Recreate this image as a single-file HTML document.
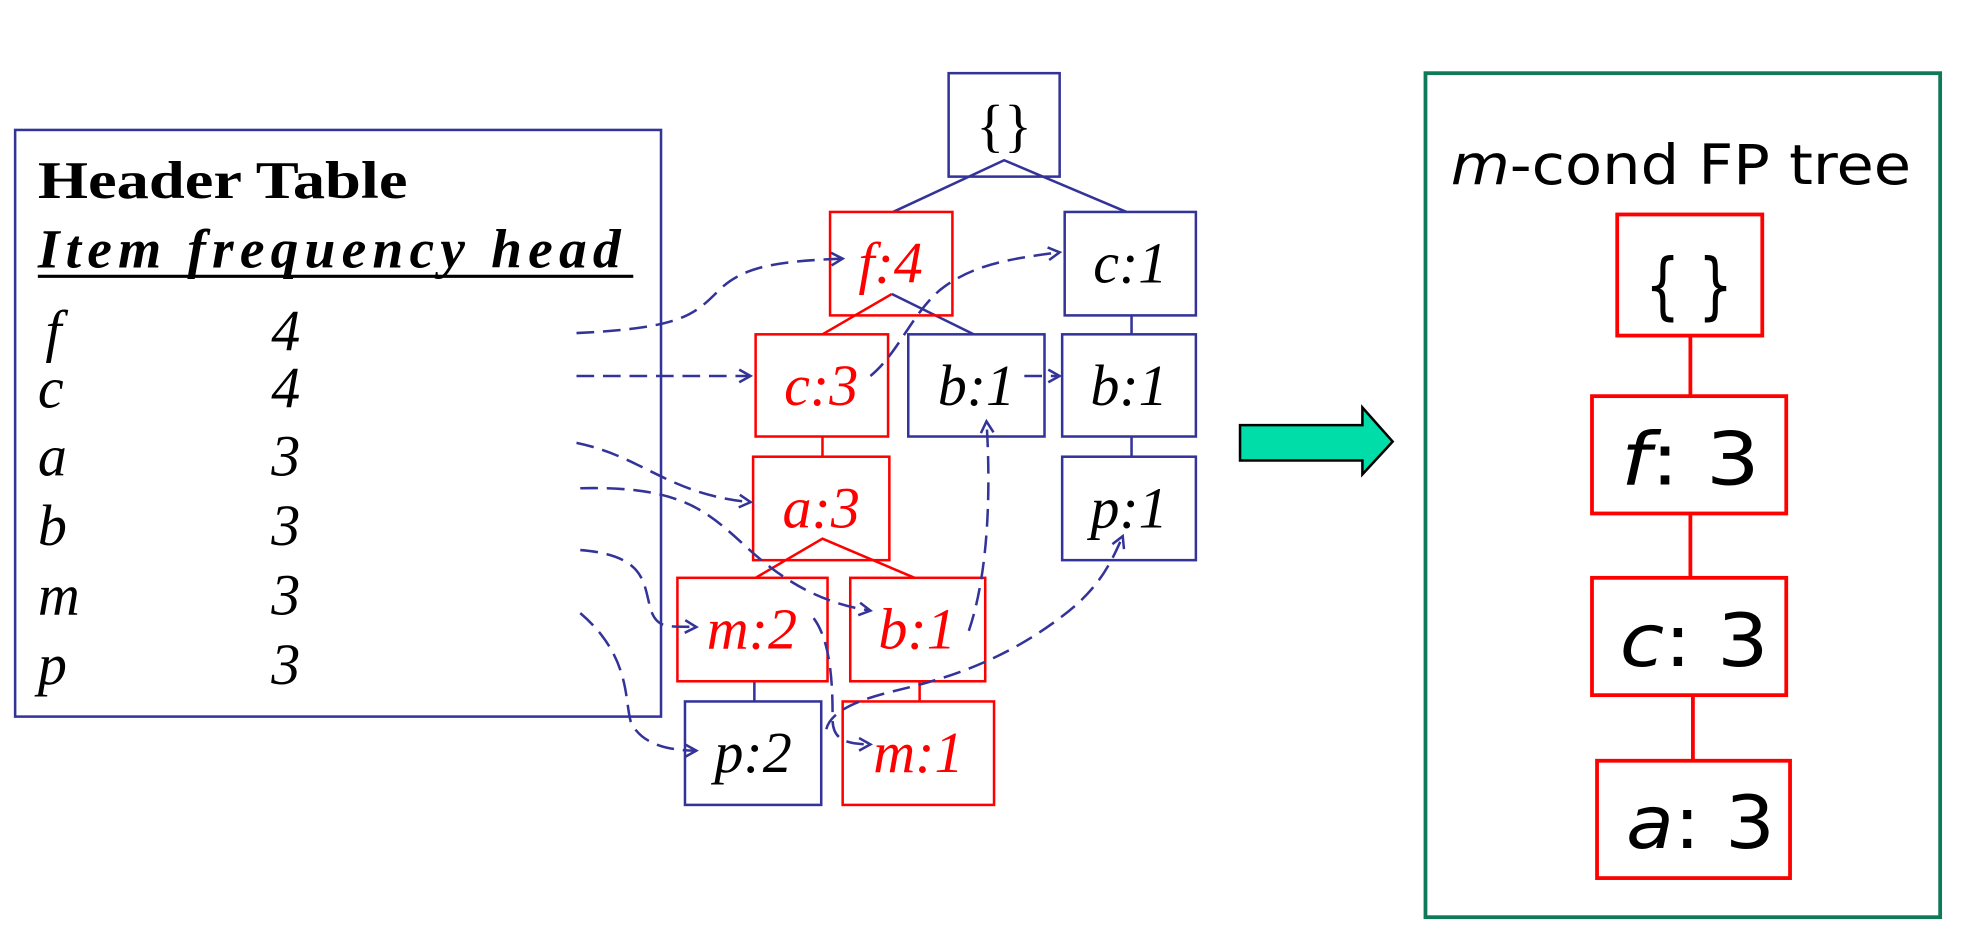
<!DOCTYPE html>
<html><head><meta charset="utf-8"><style>html,body{margin:0;padding:0;background:#fff}svg{display:block}</style></head>
<body>
<svg width="1978" height="950" viewBox="0 0 1568 753" preserveAspectRatio="none" xmlns="http://www.w3.org/2000/svg">
<defs>
<marker id="ah" markerWidth="12" markerHeight="12" refX="10" refY="6" orient="auto" markerUnits="userSpaceOnUse">
<polyline points="1,1 10,6 1,11" fill="none" stroke="#333399" stroke-width="2"/>
</marker>
</defs>
<rect width="1568" height="753" fill="#fff"/>
<!-- header table -->
<rect x="12" y="103" width="512" height="465" fill="none" stroke="#333399" stroke-width="2"/>
<g font-family="Liberation Serif, serif" fill="#000">
<text x="30" y="157" font-size="42" font-weight="bold" textLength="293" lengthAdjust="spacingAndGlyphs">Header Table</text>
<text x="30" y="212" font-size="44" font-weight="bold" font-style="italic" textLength="462" lengthAdjust="spacing">Item  frequency  head</text>
<line x1="30" y1="219" x2="502" y2="219" stroke="#000" stroke-width="2.5"/>
<g font-size="46" font-style="italic">
<text x="36" y="278">f</text><text x="215" y="278">4</text>
<text x="30" y="323">c</text><text x="215" y="323">4</text>
<text x="30" y="377">a</text><text x="215" y="377">3</text>
<text x="30" y="432">b</text><text x="215" y="432">3</text>
<text x="30" y="487">m</text><text x="215" y="487">3</text>
<text x="30" y="542">p</text><text x="215" y="542">3</text>
</g>
</g>
<!-- tree connectors -->
<g stroke-width="2" fill="none">
<polyline points="708,168 796,127 893,168" stroke="#333399"/>
<line x1="897" y1="250" x2="897" y2="265" stroke="#333399"/>
<line x1="897" y1="346" x2="897" y2="362" stroke="#333399"/>
<line x1="598" y1="540" x2="598" y2="556" stroke="#333399"/>
<line x1="707" y1="233" x2="772" y2="265" stroke="#333399"/>
<line x1="707" y1="233" x2="652" y2="265" stroke="#ff0000"/>
<line x1="652" y1="346" x2="652" y2="362" stroke="#ff0000"/>
<polyline points="599,458 652,427 725,458" stroke="#ff0000"/>
<line x1="729" y1="540" x2="729" y2="556" stroke="#ff0000"/>
</g>
<!-- nodes -->
<g stroke-width="2" fill="none">
<rect x="752" y="58" width="88" height="82" stroke="#333399"/>
<rect x="658" y="168" width="97" height="82" stroke="#ff0000"/>
<rect x="844" y="168" width="104" height="82" stroke="#333399"/>
<rect x="599" y="265" width="105" height="81" stroke="#ff0000"/>
<rect x="720" y="265" width="108" height="81" stroke="#333399"/>
<rect x="842" y="265" width="106" height="81" stroke="#333399"/>
<rect x="597" y="362" width="108" height="82" stroke="#ff0000"/>
<rect x="842" y="362" width="106" height="82" stroke="#333399"/>
<rect x="537" y="458" width="119" height="82" stroke="#ff0000"/>
<rect x="674" y="458" width="107" height="82" stroke="#ff0000"/>
<rect x="543" y="556" width="108" height="82" stroke="#333399"/>
<rect x="668" y="556" width="120" height="82" stroke="#ff0000"/>
</g>
<g font-family="Liberation Serif, serif" font-size="46" font-style="italic" text-anchor="middle">
<text x="796" y="115" font-style="normal">{}</text>
<text x="706" y="224" fill="#ff0000">f:4</text>
<text x="896" y="224" fill="#000">c:1</text>
<text x="651" y="321" fill="#ff0000">c:3</text>
<text x="774" y="321" fill="#000">b:1</text>
<text x="895" y="321" fill="#000">b:1</text>
<text x="651" y="418" fill="#ff0000">a:3</text>
<text x="895" y="418" fill="#000">p:1</text>
<text x="596" y="514" fill="#ff0000">m:2</text>
<text x="727" y="514" fill="#ff0000">b:1</text>
<text x="597" y="612" fill="#000">p:2</text>
<text x="728" y="612" fill="#ff0000">m:1</text>
</g>
<!-- dashed links -->
<g fill="none" stroke="#333399" stroke-width="2" stroke-dasharray="14,7" marker-end="url(#ah)">
<path d="M457,264 C540,260 550,250 570,230 C590,210 620,207 668,205"/>
<path d="M457,298 L595,298"/>
<path d="M457,351 C510,362 530,392 595,398"/>
<path d="M460,387 C540,385 560,405 590,432 C620,460 650,478 690,484"/>
<path d="M460,436 C510,440 510,460 515,480 C520,500 530,496 552,497"/>
<path d="M460,486 C500,520 495,555 500,572 C508,590 530,595 552,595"/>
<path d="M690,298 C712,280 722,250 745,230 C770,210 800,205 840,200"/>
<path d="M812,298 L840,298"/>
<path d="M768,500 C785,450 785,380 782,334"/>
<path d="M655,578 C660,558 700,550 720,545 C760,535 800,520 840,490 C870,468 880,448 890,425"/>
<path d="M645,490 C660,510 660,550 660,570 C660,586 670,590 690,590"/>
</g>
<!-- green arrow -->
<polygon points="983,337 1080,337 1080,323 1104,350 1080,376 1080,365 983,365" fill="#00dda8" stroke="#000" stroke-width="2"/>
<!-- right box -->
<rect x="1130" y="58" width="408" height="669" fill="none" stroke="#0e7a5a" stroke-width="3"/>
<text x="1150" y="146" font-family="DejaVu Sans, sans-serif" font-size="44" textLength="365" lengthAdjust="spacingAndGlyphs"><tspan font-style="italic">m</tspan>-cond FP tree</text>
<g stroke="#ff0000" stroke-width="3" fill="none">
<line x1="1340" y1="266" x2="1340" y2="314"/>
<line x1="1340" y1="407" x2="1340" y2="458"/>
<line x1="1342" y1="551" x2="1342" y2="603"/>
<rect x="1282" y="170" width="115" height="96"/>
<rect x="1262" y="314" width="154" height="93"/>
<rect x="1262" y="458" width="154" height="93"/>
<rect x="1266" y="603" width="153" height="93"/>
</g>
<g font-family="DejaVu Sans, sans-serif" font-size="58" text-anchor="middle" fill="#000">
<text x="1339" y="246" textLength="70" lengthAdjust="spacingAndGlyphs">{ }</text>
<text x="1340" y="384" textLength="110" lengthAdjust="spacingAndGlyphs"><tspan font-style="italic">f</tspan>: 3</text>
<text x="1343" y="528" textLength="118" lengthAdjust="spacingAndGlyphs"><tspan font-style="italic">c</tspan>: 3</text>
<text x="1348" y="672" textLength="118" lengthAdjust="spacingAndGlyphs"><tspan font-style="italic">a</tspan>: 3</text>
</g>
</svg>
</body></html>
